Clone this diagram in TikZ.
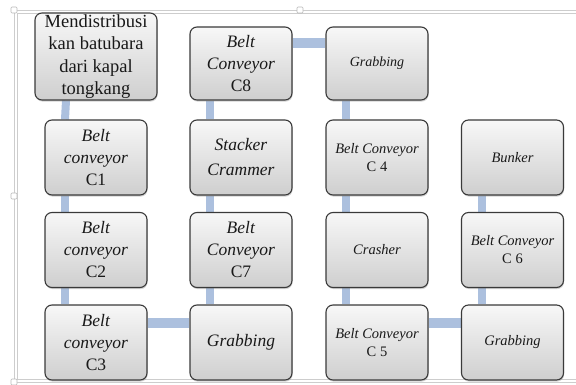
\documentclass[tikz,border=0pt]{standalone}
\usepackage{fontspec}
\setmainfont{Liberation Serif}
\usetikzlibrary{calc,shadows,backgrounds}
\definecolor{linkblue}{RGB}{172,192,222}
\definecolor{boxedge}{RGB}{58,58,58}
\definecolor{framegray}{RGB}{205,205,205}
\tikzset{
  stage/.style={draw=boxedge, line width=1.1pt, rounded corners=7pt,
    top color=gray!6, bottom color=gray!38,
    minimum width=102pt, minimum height=75pt, align=center, inner sep=0pt,
    text=black!90,
    drop shadow={shadow xshift=0.6pt, shadow yshift=-1.6pt, opacity=0.35}},
  big/.style={font=\fontsize{17.5}{22}\selectfont},
  small/.style={font=\fontsize{14.5}{18}\selectfont},
  vlink/.style={draw=linkblue, line width=8pt},
  hlink/.style={draw=linkblue, line width=10pt},
  handle/.style={draw=gray!55, fill=white, line width=0.6pt, rounded corners=1pt,
    minimum size=6pt, inner sep=0pt}
}
\begin{document}
\begin{tikzpicture}[x=1pt,y=-1pt]
\useasboundingbox (0,0) rectangle (576,385);

% picture frame
\draw[framegray, line width=0.8pt] (14,382) -- (14,10) -- (576,10);
\draw[framegray, line width=0.8pt] (17,379) -- (17,13) -- (576,13);
\draw[framegray, line width=0.8pt] (14,382) -- (576,382);
\draw[framegray, line width=0.8pt] (17,379) -- (576,379);
\node[handle] (h1) at (14,10) {};
\node[handle] (h2) at (300,10) {};
\node[handle] (h3) at (14,196) {};
\node[handle] (h4) at (14,382) {};

% column 1
\node[stage, minimum width=122pt, minimum height=87pt,
      font=\fontsize{18.5}{22.5}\selectfont] (m) at (96,56.5)
  {Mendistribusi\\kan batubara\\dari kapal\\tongkang};
\node[stage,big] (c1) at (96,157.5) {\textit{Belt}\\\textit{conveyor}\\C1};
\node[stage,big] (c2) at (96,250) {\textit{Belt}\\\textit{conveyor}\\C2};
\node[stage,big] (c3) at (96,342.5) {\textit{Belt}\\\textit{conveyor}\\C3};

% column 2
\node[stage,big, minimum height=73pt] (c8) at (241,63.5) {\textit{Belt}\\\textit{Conveyor}\\C8};
\node[stage, font=\fontsize{17.5}{25}\selectfont] (sc) at (241,157.5) {\textit{Stacker}\\\textit{Crammer}};
\node[stage,big] (c7) at (241,250) {\textit{Belt}\\\textit{Conveyor}\\C7};
\node[stage,big] (g2) at (241,342.5) {\textit{Grabbing}};

% column 3
\node[stage, minimum height=73pt, font=\fontsize{14}{18}\selectfont] (g1) at (377,63.5) {\textit{Grabbing}};
\node[stage,small] (c4) at (377,157.5) {\textit{Belt Conveyor}\\C 4};
\node[stage,small] (cr) at (377,250) {\textit{Crasher}};
\node[stage,small] (c5) at (377,342.5) {\textit{Belt Conveyor}\\C 5};

% column 4
\node[stage,small] (bk) at (512.5,157.5) {\textit{Bunker}};
\node[stage,small] (c6) at (512.5,250) {\textit{Belt Conveyor}\\C 6};
\node[stage,small] (g3) at (512.5,342.5) {\textit{Grabbing}};

% connectors behind the boxes
\begin{pgfonlayer}{background}
  \draw[vlink] ([xshift=-30pt]m.south) -- ([xshift=-31pt]c1.north);
  \draw[vlink] ([xshift=-31pt]c1.south) -- ([xshift=-31pt]c2.north);
  \draw[vlink] ([xshift=-31pt]c2.south) -- ([xshift=-31pt]c3.north);
  \draw[hlink] ($(c3.north east)+(0,19)$) -- ($(g2.north west)+(0,19)$);
  \draw[vlink] ([xshift=-31pt]g2.north) -- ([xshift=-31pt]c7.south);
  \draw[vlink] ([xshift=-31pt]c7.north) -- ([xshift=-31pt]sc.south);
  \draw[vlink] ([xshift=-31pt]sc.north) -- ([xshift=-31pt]c8.south);
  \draw[hlink] ($(c8.north east)+(0,17)$) -- ($(g1.north west)+(0,17)$);
  \draw[vlink] ([xshift=-31pt]g1.south) -- ([xshift=-31pt]c4.north);
  \draw[vlink] ([xshift=-31pt]c4.south) -- ([xshift=-31pt]cr.north);
  \draw[vlink] ([xshift=-31pt]cr.south) -- ([xshift=-31pt]c5.north);
  \draw[hlink] ($(c5.north east)+(0,19)$) -- ($(g3.north west)+(0,19)$);
  \draw[vlink] ([xshift=-31pt]g3.north) -- ([xshift=-31pt]c6.south);
  \draw[vlink] ([xshift=-31pt]c6.north) -- ([xshift=-31pt]bk.south);
\end{pgfonlayer}
\end{tikzpicture}
\end{document}
